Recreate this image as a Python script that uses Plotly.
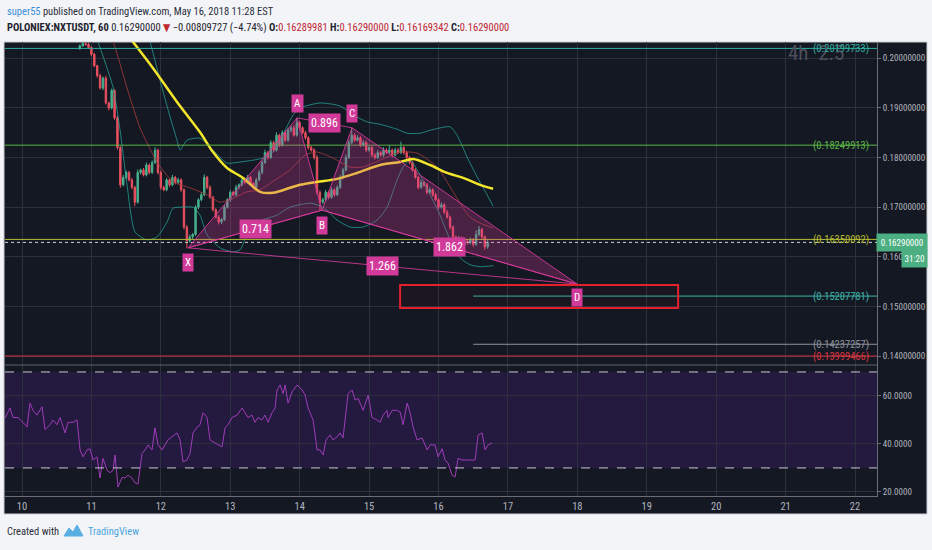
import plotly.graph_objects as go

# ---------------- data ----------------
day_ticks = list(range(10, 23))
price_ticks = [0.14, 0.15, 0.16, 0.17, 0.18, 0.19, 0.20]
rsi_ticks = [20, 40, 60]

candle_start_day = 10 + 20 / 24   # first visible hourly candle
first_open = 0.2020
closes = [
    0.2025, 0.2030, 0.2028, 0.2022, 0.2008, 0.1985, 0.1965, 0.1940, 0.1960, 0.1910,
    0.1900, 0.1935, 0.1880, 0.1820, 0.1745, 0.1760, 0.1770, 0.1755, 0.1740, 0.1710,
    0.1770, 0.1775, 0.1765, 0.1785, 0.1770, 0.1790, 0.1815, 0.1770, 0.1740, 0.1735,
    0.1755, 0.1745, 0.1760, 0.1750, 0.1755, 0.1735, 0.1660, 0.1632, 0.1640, 0.1645,
    0.1700, 0.1715, 0.1725, 0.1760, 0.1740, 0.1720, 0.1695, 0.1680, 0.1670, 0.1675,
    0.1700, 0.1715, 0.1730, 0.1725, 0.1740, 0.1745, 0.1755, 0.1750, 0.1760, 0.1748,
    0.1740, 0.1755, 0.1770, 0.1790, 0.1810, 0.1800, 0.1830, 0.1815, 0.1845, 0.1825,
    0.1850, 0.1835, 0.1855, 0.1860, 0.1845, 0.1870, 0.1860, 0.1850, 0.1840, 0.1820,
    0.1815, 0.1800, 0.1730, 0.1710, 0.1715, 0.1730, 0.1720, 0.1735, 0.1725, 0.1740,
    0.1760, 0.1775, 0.1800, 0.1830, 0.1845, 0.1835, 0.1840, 0.1825, 0.1830, 0.1815,
    0.1820, 0.1805, 0.1800, 0.1810, 0.1805, 0.1815, 0.1810, 0.1815, 0.1805, 0.1815,
    0.1810, 0.1820, 0.1810, 0.1800, 0.1790, 0.1775, 0.1760, 0.1740, 0.1750, 0.1745,
    0.1730, 0.1735, 0.1725, 0.1715, 0.1700, 0.1705, 0.1690, 0.1680, 0.1660, 0.1640,
    0.1630, 0.1638, 0.1625, 0.1632, 0.1628, 0.1635, 0.1625, 0.1645, 0.1655, 0.1640,
    0.1620, 0.1629,
]
# wick lengths in units of 0.0001
up_wick = [
    3, 3, 2, 3, 2, 3, 2, 4, 3, 5,
    3, 4, 3, 4, 3, 5, 4, 3, 4, 3,
    6, 3, 4, 5, 3, 4, 6, 3, 4, 3,
    4, 3, 5, 3, 4, 3, 3, 4, 5, 3,
    4, 3, 5, 6, 3, 4, 3, 3, 4, 3,
    4, 3, 4, 3, 5, 3, 4, 3, 5, 3,
    3, 4, 5, 4, 6, 3, 5, 4, 6, 3,
    5, 4, 5, 4, 5, 10, 4, 3, 4, 3,
    4, 3, 5, 4, 4, 5, 3, 5, 3, 4,
    5, 4, 6, 6, 15, 4, 5, 3, 5, 4,
    4, 3, 4, 5, 3, 6, 4, 10, 3, 5,
    4, 12, 3, 4, 3, 3, 4, 3, 5, 3,
    4, 5, 3, 4, 3, 5, 3, 4, 3, 3,
    3, 4, 3, 5, 3, 4, 3, 8, 7, 3,
    3, 5,
]
down_wick = [
    3, 2, 3, 3, 4, 3, 4, 3, 4, 3,
    5, 3, 4, 4, 6, 3, 4, 3, 4, 8,
    3, 4, 3, 3, 4, 3, 3, 4, 5, 3,
    3, 4, 3, 4, 3, 4, 5, 15, 4, 5,
    3, 4, 3, 3, 4, 3, 4, 3, 5, 4,
    3, 3, 4, 3, 3, 4, 3, 4, 3, 5,
    4, 3, 3, 4, 3, 4, 3, 4, 3, 4,
    3, 4, 3, 4, 3, 3, 4, 3, 4, 4,
    3, 4, 5, 16, 4, 3, 4, 3, 4, 3,
    3, 4, 3, 3, 3, 4, 3, 4, 3, 4,
    3, 4, 4, 3, 3, 4, 3, 3, 4, 3,
    3, 3, 4, 3, 4, 3, 3, 4, 3, 4,
    4, 3, 4, 3, 4, 3, 4, 3, 5, 5,
    4, 4, 5, 3, 4, 3, 5, 3, 4, 4,
    6, 4,
]

ma_t = [11.484, 11.599, 11.888, 12.233, 12.565, 12.752, 12.954, 13.184, 13.429, 13.617,
        13.862, 14.006, 14.251, 14.539, 14.827, 15.159, 15.447, 15.634, 15.879, 16.124,
        16.354, 16.599, 16.787]
ma_v = [0.2053, 0.2033, 0.1980, 0.1912, 0.1851, 0.1811, 0.1779, 0.1759, 0.1731, 0.1729,
        0.1739, 0.1745, 0.1751, 0.1757, 0.1769, 0.1785, 0.1791, 0.1797, 0.1785, 0.1769,
        0.1759, 0.1745, 0.1737]

bb_up_t = [11.772, 11.844, 11.988, 12.133, 12.233, 12.277, 12.377, 12.565, 12.709, 12.954,
           13.141, 13.472, 13.646, 13.790, 13.905, 14.006, 14.294, 14.582, 14.769, 14.971,
           15.159, 15.404, 15.548, 15.735, 15.879, 16.167, 16.268, 16.412, 16.556, 16.700,
           16.787]
bb_up_v = [0.2057, 0.2033, 0.1956, 0.1882, 0.1835, 0.1815, 0.1835, 0.1839, 0.1821, 0.1789,
           0.1791, 0.1799, 0.1815, 0.1855, 0.1886, 0.1900, 0.1910, 0.1904, 0.1886, 0.1872,
           0.1867, 0.1857, 0.1849, 0.1849, 0.1855, 0.1862, 0.1845, 0.1801, 0.1761, 0.1725,
           0.1702]
bb_lo_t = [11.095, 11.311, 11.412, 11.513, 11.628, 11.801, 11.945, 12.089, 12.176, 12.320,
           12.464, 12.565, 12.666, 12.853, 13.040, 13.141, 13.242, 13.429, 13.674, 13.862,
           14.150, 14.337, 14.539, 14.726, 14.914, 15.115, 15.259, 15.404, 15.490, 15.591,
           15.735, 15.879, 16.023, 16.167, 16.311, 16.455, 16.599, 16.787]
bb_lo_v = [0.2033, 0.1942, 0.1856, 0.1745, 0.1650, 0.1634, 0.1640, 0.1670, 0.1698, 0.1700,
           0.1700, 0.1684, 0.1644, 0.1618, 0.1610, 0.1614, 0.1644, 0.1672, 0.1684, 0.1700,
           0.1708, 0.1700, 0.1674, 0.1660, 0.1660, 0.1674, 0.1700, 0.1755, 0.1781, 0.1795,
           0.1765, 0.1725, 0.1684, 0.1634, 0.1598, 0.1584, 0.1580, 0.1582]
bb_mid_t = [11.196, 11.311, 11.513, 11.700, 11.945, 12.176, 12.421, 12.666, 12.853, 13.040,
            13.242, 13.429, 13.646, 13.862, 14.078, 14.251, 14.481, 14.726, 14.914, 15.159,
            15.447, 15.692, 15.980, 16.167, 16.311, 16.455, 16.599, 16.787]
bb_mid_v = [0.2057, 0.2033, 0.1940, 0.1860, 0.1791, 0.1751, 0.1739, 0.1725, 0.1710, 0.1718,
            0.1731, 0.1735, 0.1755, 0.1775, 0.1805, 0.1811, 0.1799, 0.1781, 0.1781, 0.1795,
            0.1811, 0.1809, 0.1781, 0.1741, 0.1708, 0.1680, 0.1668, 0.1658]

rsi_t = [
    9.755, 9.827, 9.870, 9.942, 10.014, 10.072, 10.115, 10.158, 10.216, 10.288,
    10.331, 10.403, 10.447, 10.504, 10.548, 10.620, 10.663, 10.735, 10.793, 10.836,
    10.879, 10.937, 10.980, 11.023, 11.081, 11.124, 11.167, 11.225, 11.268, 11.311,
    11.340, 11.383, 11.441, 11.484, 11.527, 11.585, 11.628, 11.671, 11.729, 11.772,
    11.816, 11.873, 11.916, 11.960, 12.017, 12.060, 12.104, 12.161, 12.233, 12.277,
    12.320, 12.377, 12.421, 12.464, 12.522, 12.565, 12.608, 12.666, 12.709, 12.781,
    12.882, 12.925, 12.968, 13.026, 13.098, 13.170, 13.213, 13.256, 13.314, 13.357,
    13.400, 13.458, 13.501, 13.545, 13.602, 13.646, 13.674, 13.718, 13.761, 13.790,
    13.833, 13.891, 13.963, 14.035, 14.078, 14.121, 14.193, 14.251, 14.294, 14.337,
    14.380, 14.438, 14.481, 14.539, 14.582, 14.625, 14.697, 14.755, 14.798, 14.841,
    14.914, 14.986, 15.043, 15.115, 15.159, 15.202, 15.259, 15.274, 15.332, 15.404,
    15.447, 15.490, 15.548, 15.591, 15.634, 15.692, 15.764, 15.836, 15.879, 15.951,
    15.994, 16.052, 16.095, 16.138, 16.196, 16.239, 16.282, 16.340, 16.383, 16.455,
    16.527, 16.571, 16.628, 16.671, 16.715, 16.772,
]
rsi_v = [
    50.8, 55, 51, 51, 49, 47, 57, 54, 52, 55.5,
    46, 48, 50, 48, 51, 44.6, 49, 49, 50, 37.5,
    34.6, 37.5, 38, 33.3, 34.6, 25.8, 34, 29, 28, 29,
    35.4, 22, 26, 25.8, 27, 25.8, 23.8, 23.3, 36, 37.5,
    39.6, 37.5, 46.7, 39.6, 37.5, 39.6, 41.7, 43, 44.6, 41.7,
    32.5, 33.3, 36, 44.6, 47, 48, 53, 51, 41.7, 40.4,
    38.8, 46.7, 48, 51, 52, 55, 53, 51, 52, 49,
    51, 50, 52, 49, 53, 55, 62.5, 64.6, 61, 64.6,
    57, 61.7, 64.6, 62.5, 60.4, 55, 50, 37.5, 37.5, 35.4,
    41.7, 43.7, 41.7, 43, 44.6, 42.5, 61, 62.5, 58.3, 59,
    54, 60.4, 51, 50, 49, 52, 54, 51, 54, 54,
    53.3, 48, 57, 53, 47, 41.7, 42.5, 37.5, 39.6, 39.6,
    34.6, 38, 33.3, 32, 27, 26.2, 34, 33.3, 33.3, 33.3,
    33.3, 43.7, 44.6, 37.5, 39.6, 40.4,
]

# harmonic pattern points (day, price)
pat_names = ["X", "A", "B", "C", "D"]
pat_t = [12.392, 13.963, 14.323, 14.755, 17.997]
pat_p = [0.1618, 0.1880, 0.1694, 0.1860, 0.1545]
ratio_labels = [("X", "B", "0.714"), ("A", "C", "0.896"), ("B", "D", "1.862"), ("X", "D", "1.266")]

# horizontal price levels: value, label, colour, start day (None = full width)
levels = [
    (0.20199733, "(0.20199733)", "#2fae9f", None),
    (0.18249913, "(0.18249913)", "#5cb843", None),
    (0.16350092, "(0.16350092)", "#b6bd34", None),
    (0.15207781, "(0.15207781)", "#3db2a6", 16.50),
    (0.14237257, "(0.14237257)", "#8f929b", 16.50),
    (0.13999466, "(0.13999466)", "#d9343f", None),
]
last_price = 0.16290000
zone_t = [15.447, 19.452]
zone_p = [0.1497, 0.1543]

# ---------------- layout helpers ----------------
W, H = 932, 550
ML, MR, MT, MB = 5, 55, 42, 54
PW, PH = W - ML - MR, H - MT - MB
def px(x):
    return (x - ML) / PW
def py(y):
    return (H - MB - y) / PH

XR = [9.755, 22.317]
PR = [0.13819, 0.20329]
RR = [18.3, 72.9]
split = py(365)

BG = "#141823"
GRID = "#2c303d"
AXC = "#b2b5be"
PINK = "#d23a9a"
FONT = "Liberation Sans Narrow, Roboto Condensed, DejaVu Sans Condensed, Roboto, Liberation Sans, sans-serif"

# ---------------- traces ----------------
opens = [first_open] + closes[:-1]
highs = [max(o, c) + w * 1e-4 for o, c, w in zip(opens, closes, up_wick)]
lows = [min(o, c) - w * 1e-4 for o, c, w in zip(opens, closes, down_wick)]
ct = [candle_start_day + k / 24 for k in range(len(closes))]

fig = go.Figure()
fig.add_trace(go.Scatter(x=bb_up_t, y=bb_up_v, mode="lines", line=dict(color="rgba(38,166,154,0.75)", width=1, shape="spline", smoothing=0.6), xaxis="x", yaxis="y"))
fig.add_trace(go.Scatter(x=bb_lo_t, y=bb_lo_v, mode="lines", line=dict(color="rgba(38,166,154,0.75)", width=1, shape="spline", smoothing=0.6), xaxis="x", yaxis="y"))
fig.add_trace(go.Scatter(x=bb_mid_t, y=bb_mid_v, mode="lines", line=dict(color="rgba(170,60,60,0.8)", width=1, shape="spline", smoothing=0.6), xaxis="x", yaxis="y"))
fig.add_trace(go.Candlestick(
    x=ct, open=opens, high=highs, low=lows, close=closes,
    increasing=dict(line=dict(color="#47b08c", width=1), fillcolor="#47b08c"),
    decreasing=dict(line=dict(color="#e8505f", width=1), fillcolor="#e8505f"),
    whiskerwidth=0, xaxis="x", yaxis="y"))
fig.add_trace(go.Scatter(x=ma_t, y=ma_v, mode="lines", line=dict(color="#f2e52c", width=2.5, shape="spline", smoothing=0.8), xaxis="x", yaxis="y"))
fig.add_trace(go.Scatter(x=rsi_t, y=rsi_v, mode="lines", line=dict(color="#9f3cb8", width=1), xaxis="x", yaxis="y2"))

shapes = []
# dark chart background
shapes.append(dict(type="rect", xref="paper", yref="paper", x0=px(4), x1=px(927), y0=py(514), y1=py(42),
                   fillcolor=BG, line=dict(color="#c9ccd3", width=1), layer="below"))
# RSI band
shapes.append(dict(type="rect", xref="x", yref="y2", x0=XR[0], x1=XR[1], y0=30, y1=70,
                   fillcolor="#24193f", line=dict(width=0), layer="below"))
for lv in (30, 70):
    shapes.append(dict(type="line", xref="x", yref="y2", x0=XR[0], x1=XR[1], y0=lv, y1=lv,
                       line=dict(color="#c8c8d2", width=1, dash="dash")))
# pane separator
shapes.append(dict(type="line", xref="paper", yref="paper", x0=0, x1=1, y0=split, y1=split,
                   line=dict(color="#5d606b", width=1)))
# level lines
for val, _lab, col, start in levels:
    shapes.append(dict(type="line", xref="x", yref="y", x0=start if start else XR[0], x1=XR[1],
                       y0=val, y1=val, line=dict(color=col, width=1)))
shapes.append(dict(type="line", xref="x", yref="y", x0=XR[0], x1=XR[1], y0=last_price, y1=last_price,
                   line=dict(color="#d0d3da", width=1, dash="dot")))
# harmonic pattern
P = {n: (t, p) for n, t, p in zip(pat_names, pat_t, pat_p)}
def tri(a, b, c):
    return "M {} {} L {} {} L {} {} Z".format(P[a][0], P[a][1], P[b][0], P[b][1], P[c][0], P[c][1])
for a, b, c in (("X", "A", "B"), ("B", "C", "D")):
    shapes.append(dict(type="path", xref="x", yref="y", path=tri(a, b, c),
                       fillcolor="rgba(214,58,154,0.27)", line=dict(color="rgba(214,58,154,0.9)", width=1)))
for a, b, _r in ratio_labels:
    shapes.append(dict(type="line", xref="x", yref="y", x0=P[a][0], y0=P[a][1], x1=P[b][0], y1=P[b][1],
                       line=dict(color="rgba(214,58,154,0.85)", width=1)))
# target zone
shapes.append(dict(type="rect", xref="x", yref="y", x0=zone_t[0], x1=zone_t[1], y0=zone_p[0], y1=zone_p[1],
                   line=dict(color="#e3202b", width=2), fillcolor="rgba(255,0,0,0.03)"))
# footer logo
def ppath(pts):
    return "M " + " L ".join("{} {}".format(px(x), py(y)) for x, y in pts) + " Z"
shapes.append(dict(type="path", xref="paper", yref="paper",
                   path=ppath([(64, 536), (69, 528), (73, 532), (77, 525), (83, 536)]),
                   fillcolor="#5aaee0", line=dict(color="#5aaee0", width=1)))

ann = []
# header
ann.append(dict(xref="paper", yref="paper", x=px(5), y=py(12), xanchor="left", yanchor="middle", showarrow=False,
                text="<span style='color:#3c8fd8'>super55</span> published on TradingView.com, May 16, 2018 11:28 EST",
                font=dict(family=FONT, size=10.5, color="#2a2e39")))
red = "#c0262f"
ann.append(dict(xref="paper", yref="paper", x=px(5), y=py(28), xanchor="left", yanchor="middle", showarrow=False,
                text=("<b>POLONIEX:NXTUSDT, 60</b> 0.16290000 <span style='color:%s'>▼</span> −0.00809727 (−4.74%%) "
                      "<b>O:</b><span style='color:%s'>0.16289981</span> <b>H:</b><span style='color:%s'>0.16290000</span> "
                      "<b>L:</b><span style='color:%s'>0.16169342</span> <b>C:</b><span style='color:%s'>0.16290000</span>")
                % (red, red, red, red, red),
                font=dict(family=FONT, size=10.5, color="#1e222d")))
# footer
ann.append(dict(xref="paper", yref="paper", x=px(5), y=py(531), xanchor="left", yanchor="middle", showarrow=False,
                text="Created with", font=dict(family=FONT, size=10.5, color="#2a2e39")))
ann.append(dict(xref="paper", yref="paper", x=px(86), y=py(531), xanchor="left", yanchor="middle", showarrow=False,
                text="TradingView", font=dict(family=FONT, size=10.5, color="#4ea5dc")))
# watermark
ann.append(dict(xref="paper", yref="paper", x=px(786), y=py(53), xanchor="left", yanchor="middle", showarrow=False,
                text="4h  2.5", font=dict(family=FONT, size=21, color="#4b4f5c")))
# level labels
for val, lab, col, _s in levels:
    ann.append(dict(xref="paper", yref="y", x=px(871), y=val, xanchor="right", yanchor="middle", showarrow=False,
                    text=lab, font=dict(family=FONT, size=10.5, color=col)))
# current price tags
ann.append(dict(xref="paper", yref="y", x=px(902), y=last_price, xanchor="center", yanchor="middle", showarrow=False,
                text="0.16290000", bgcolor="#4caf82", width=48, height=15, borderpad=1,
                font=dict(family=FONT, size=9, color="#ffffff")))
ann.append(dict(xref="paper", yref="y", x=px(914.5), y=last_price, yshift=-17, xanchor="center", yanchor="middle",
                showarrow=False, text="31:20", bgcolor="#4caf82", width=23, height=14, borderpad=1,
                font=dict(family=FONT, size=9, color="#ffffff")))
# pattern point labels
point_shift = {"X": -15, "A": 14, "B": -15, "C": 14, "D": -13}
for n in pat_names:
    ann.append(dict(xref="x", yref="y", x=P[n][0], y=P[n][1], yshift=point_shift[n], showarrow=False,
                    text=n, bgcolor=PINK, borderpad=2, font=dict(family=FONT, size=11, color="#ffffff")))
for a, b, r in ratio_labels:
    ann.append(dict(xref="x", yref="y", x=(P[a][0] + P[b][0]) / 2, y=(P[a][1] + P[b][1]) / 2, showarrow=False,
                    text=r, bgcolor=PINK, borderpad=2, font=dict(family=FONT, size=12, color="#ffffff")))

fig.update_layout(
    width=W, height=H, margin=dict(l=ML, r=MR, t=MT, b=MB),
    paper_bgcolor="#f2f4f8", plot_bgcolor="rgba(0,0,0,0)",
    showlegend=False, hovermode=False,
    font=dict(family=FONT, color=AXC),
    xaxis=dict(range=XR, domain=[0, 1], anchor="y2", tickvals=day_ticks, ticktext=[str(d) for d in day_ticks],
               showgrid=True, gridcolor=GRID, gridwidth=1, zeroline=False, showline=True, linecolor="#6a6d78",
               ticks="", tickfont=dict(family=FONT, size=10.5, color=AXC), rangeslider=dict(visible=False), fixedrange=True),
    yaxis=dict(range=PR, domain=[split, 1], side="right", anchor="x", tickvals=price_ticks,
               ticktext=["%.8f" % v for v in price_ticks], showgrid=True, gridcolor=GRID, zeroline=False,
               showline=True, linecolor="#6a6d78", ticks="outside", ticklen=3, tickcolor="#6a6d78",
               tickfont=dict(family=FONT, size=9, color=AXC)),
    yaxis2=dict(range=RR, domain=[0, split], side="right", anchor="x", tickvals=rsi_ticks,
                ticktext=["%.4f" % v for v in rsi_ticks], showgrid=True, gridcolor=GRID, zeroline=False,
                showline=True, linecolor="#6a6d78", ticks="outside", ticklen=3, tickcolor="#6a6d78",
                tickfont=dict(family=FONT, size=9, color=AXC)),
    shapes=shapes, annotations=ann,
)

fig.write_html("out.html", config={"displayModeBar": False, "staticPlot": True},
               post_script="document.body.style.margin='0';document.body.style.padding='0';")
